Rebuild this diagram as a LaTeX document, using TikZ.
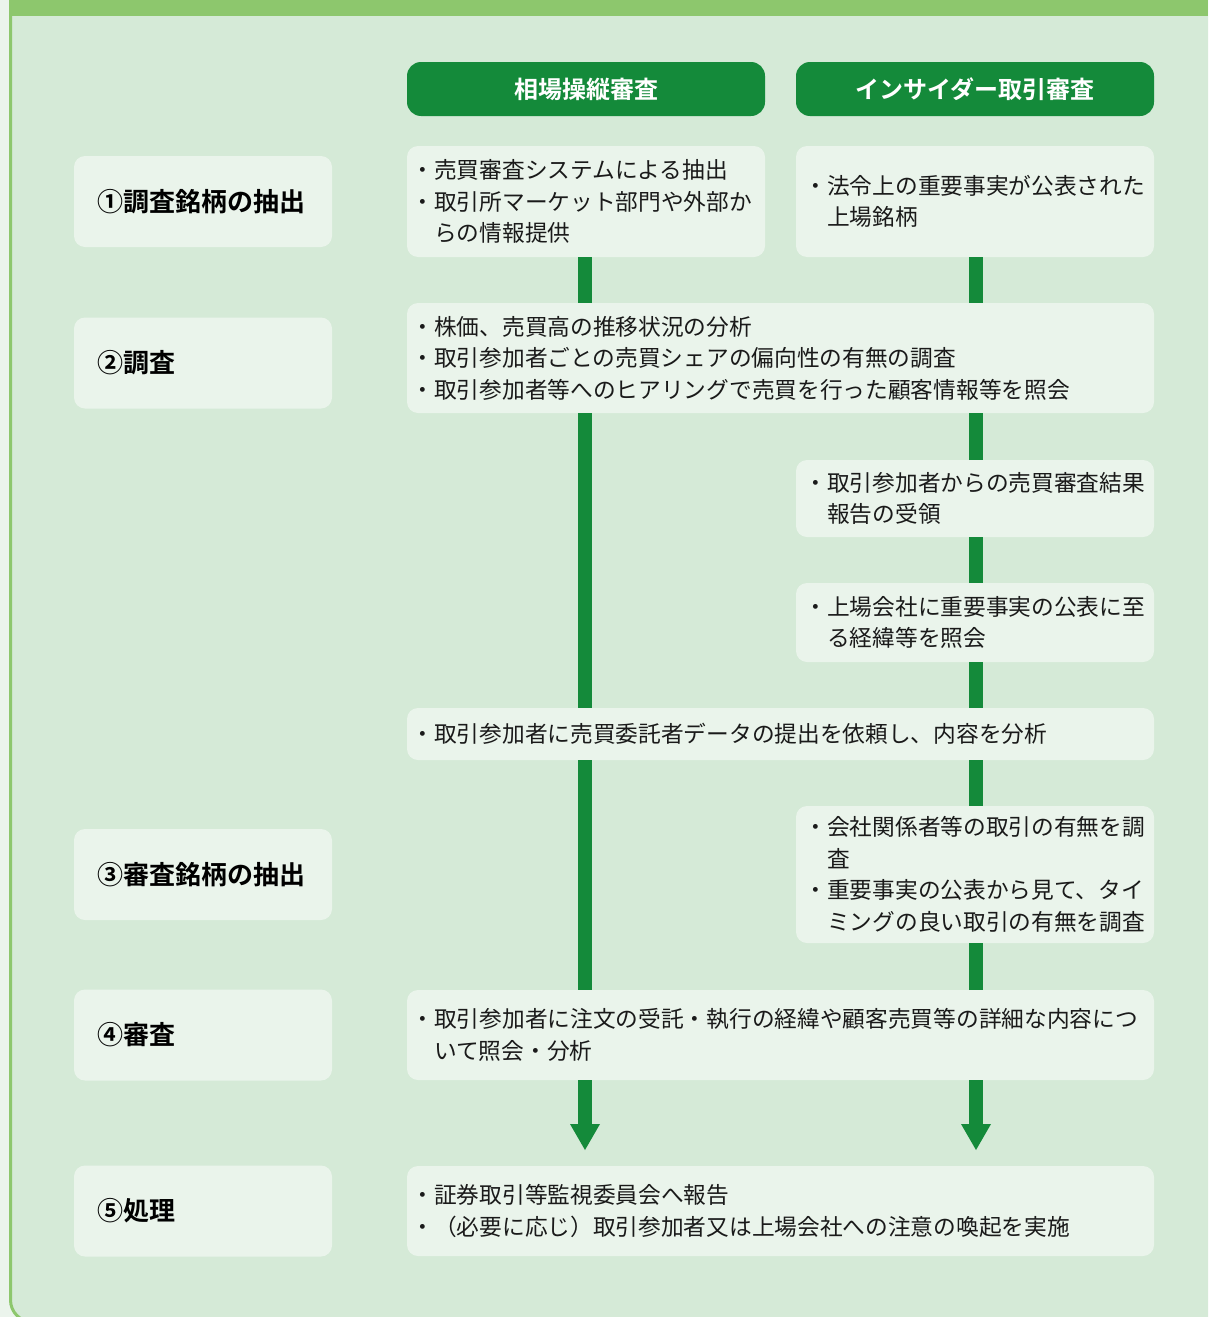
\documentclass[tikz,border=0pt]{standalone}
\usepackage{fontspec}
\setmainfont{Noto Sans CJK JP}[BoldFont={Noto Sans CJK JP Bold}]
\usetikzlibrary{arrows.meta}
\definecolor{framegreen}{HTML}{8DC76D}
\definecolor{darkgreen}{HTML}{148A3A}
\definecolor{panelbg}{HTML}{D5EAD7}
\definecolor{boxbg}{HTML}{EAF4EB}
\definecolor{pagebg}{HTML}{EBF4EC}
\definecolor{textgray}{HTML}{1A1A1A}
\newcommand{\ind}{\hspace*{1em}}

\begin{document}
\begin{tikzpicture}[x=1pt,y=-1pt,
  headbox/.style={fill=darkgreen, rounded corners=14pt, minimum width=358pt,
    minimum height=54pt, text=white, font=\fontsize{24}{30}\selectfont\bfseries},
  stepbox/.style={fill=boxbg, rounded corners=11pt, minimum height=91pt,
    text width=212pt, inner xsep=23pt, align=left, text=black,
    font=\fontsize{26}{32}\selectfont\bfseries},
  itembox/.style={fill=boxbg, rounded corners=11pt, inner xsep=4.5pt,
    text width=349pt, align=left, text=textgray,
    font=\fontsize{22.7}{31.5}\selectfont},
  rightbox/.style={itembox, inner xsep=8.5pt, text width=341pt},
  widebox/.style={itembox, text width=738pt},
  flow/.style={draw=darkgreen, line width=14pt}]
\useasboundingbox (0,0) rectangle (1208,1317);
\clip (0,0) rectangle (1208,1317);
\fill[pagebg] (0,0) rectangle (1208,1317);
\draw[framegreen, line width=3pt, fill=panelbg, rounded corners=22pt]
  (10.5,-40) rectangle (1260,1322);
\fill[framegreen] (9,0) rectangle (1208,16);

% columns
\coordinate (colL) at (585,0);
\coordinate (colR) at (976,0);

\node[headbox] (hdL) at (586,89) {相場操縦審査};
\node[headbox] (hdR) at (975,89) {インサイダー取引審査};

\node[stepbox] (s1) at (203,201.5) {①調査銘柄の抽出};
\node[stepbox] (s2) at (203,363) {②調査};
\node[stepbox] (s3) at (203,874.5) {③審査銘柄の抽出};
\node[stepbox] (s4) at (203,1035) {④審査};
\node[stepbox] (s5) at (203,1211) {⑤処理};

\node[itembox, minimum height=111pt] (a1) at (586,201.5)
  {・売買審査システムによる抽出\\・取引所マーケット部門や外部か\\\ind らの情報提供};
\node[rightbox, minimum height=111pt] (b1) at (975,201.5)
  {・法令上の重要事実が公表された\\\ind 上場銘柄};
\node[widebox, minimum height=110pt] (c2) at (780.5,358)
  {・株価、売買高の推移状況の分析\\・取引参加者ごとの売買シェアの偏向性の有無の調査\\・取引参加者等へのヒアリングで売買を行った顧客情報等を照会};
\node[rightbox, minimum height=77pt] (b3) at (975,498.5)
  {・取引参加者からの売買審査結果\\\ind 報告の受領};
\node[rightbox, minimum height=79pt] (b4) at (975,622.5)
  {・上場会社に重要事実の公表に至\\\ind る経緯等を照会};
\node[widebox, minimum height=52pt] (c5) at (780.5,734)
  {・取引参加者に売買委託者データの提出を依頼し、内容を分析};
\node[rightbox, minimum height=137pt] (b6) at (975,874.5)
  {・会社関係者等の取引の有無を調\\\ind 査\\・重要事実の公表から見て、タイ\\\ind ミングの良い取引の有無を調査};
\node[widebox, minimum height=90pt] (c7) at (780.5,1035)
  {・取引参加者に注文の受託・執行の経緯や顧客売買等の詳細な内容につ\\\ind いて照会・分析};
\node[widebox, minimum height=90pt] (c8) at (780.5,1211)
  {・証券取引等監視委員会へ報告\\・（必要に応じ）取引参加者又は上場会社への注意の喚起を実施};

\coordinate (endL) at (585,1150);
\coordinate (endR) at (976,1150);

\draw[flow] (a1.south -| colL) -- (c2.north -| colL);
\draw[flow] (c2.south -| colL) -- (c5.north -| colL);
\draw[flow] (c5.south -| colL) -- (c7.north -| colL);
\draw[flow] (b1.south -| colR) -- (c2.north -| colR);
\draw[flow] (c2.south -| colR) -- (b3.north -| colR);
\draw[flow] (b3.south -| colR) -- (b4.north -| colR);
\draw[flow] (b4.south -| colR) -- (c5.north -| colR);
\draw[flow] (c5.south -| colR) -- (b6.north -| colR);
\draw[flow] (b6.south -| colR) -- (c7.north -| colR);
\draw[flow, -{Triangle[width=30pt,length=26pt,line width=0pt]}]
  (c7.south -| colL) -- (endL);
\draw[flow, -{Triangle[width=30pt,length=26pt,line width=0pt]}]
  (c7.south -| colR) -- (endR);
\end{tikzpicture}
\end{document}
